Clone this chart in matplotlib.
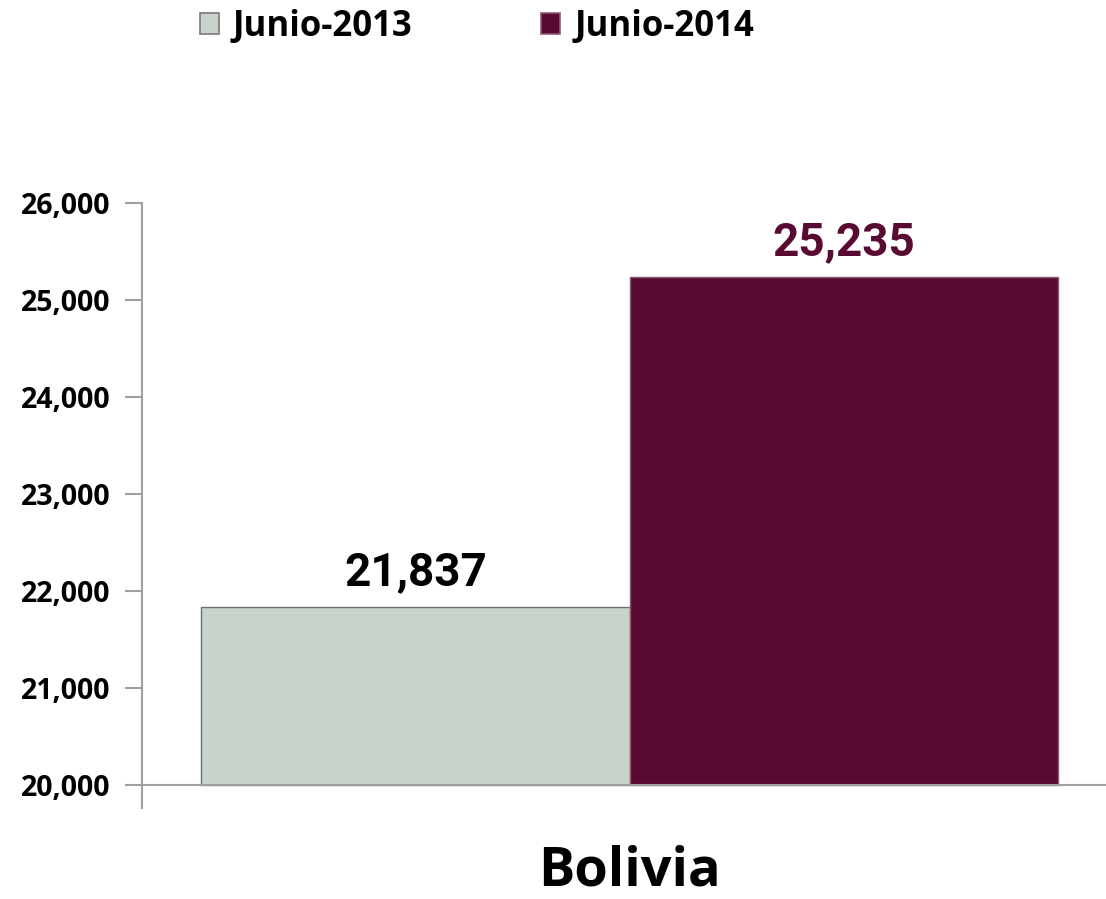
import matplotlib
matplotlib.use("Agg")
import matplotlib.pyplot as plt
from matplotlib.patches import Patch
from matplotlib.ticker import FuncFormatter

# Data
category = "Bolivia"
series_names = ["Junio-2013", "Junio-2014"]
values = [21837, 25235]
y_ticks = [20000, 21000, 22000, 23000, 24000, 25000, 26000]

bar_colors = ["#C9D3CB", "#590A33"]
edge_colors = ["#6E6E6E", "#8A5A75"]
label_colors = ["#000000", "#590A33"]

MAIN_FONT = ["Open Sans", "DejaVu Sans"]
VALUE_FONT = ["Roboto", "DejaVu Sans"]

W, H = 1106, 899
fig = plt.figure(figsize=(W / 100, H / 100), dpi=100)
fig.patch.set_facecolor("white")

# axes frame in pixel terms: left spine at x=142, top at y=203, bottom of spine at y=808
left_px, right_px, top_px, bottom_px = 142, 1106, 203, 808
ax = fig.add_axes([left_px / W, 1 - bottom_px / H,
                   (right_px - left_px) / W, (bottom_px - top_px) / H])

y0 = 20000
px_per_unit = (785 - 203) / 6000.0
ymin = y0 - (808 - 785) / px_per_unit
ax.set_ylim(ymin, 26000)

bar_w = 1.0
positions = [-0.5, 0.5]
xmin = -1 - (201 - 142) / 428.0
xmax = 1 + (1106 - 1058) / 428.0
ax.set_xlim(xmin, xmax)

for pos, v, fc, ec, lc in zip(positions, values, bar_colors, edge_colors, label_colors):
    ax.bar(pos, v - y0, bottom=y0, width=bar_w, color=fc, edgecolor=ec,
           linewidth=1.0, zorder=2)
    ax.annotate(f"{v:,}", xy=(pos, v), xytext=(0, 22), textcoords="offset pixels",
                ha="center", va="baseline", fontsize=33, fontweight="bold",
                color=lc, family=VALUE_FONT)

# horizontal baseline at 20,000
ax.axhline(y0, color="#A0A0A0", linewidth=1.5, zorder=3)

for s in ["top", "right", "bottom"]:
    ax.spines[s].set_visible(False)
ax.spines["left"].set_color("#A0A0A0")
ax.spines["left"].set_linewidth(1.5)

ax.set_yticks(y_ticks)
ax.yaxis.set_major_formatter(FuncFormatter(lambda v, p: f"{int(v):,}"))
ax.tick_params(axis="y", length=12, width=1.5, color="#A0A0A0", pad=11,
               labelsize=20.5)
for t in ax.get_yticklabels():
    t.set_fontweight("bold")
    t.set_family(MAIN_FONT)
ax.set_xticks([])

fig.text((201 + 1058) / 2 / W, 1 - 886 / H, category, ha="center", va="baseline",
         fontsize=39, fontweight="bold", family=MAIN_FONT)

handles = [Patch(facecolor=bar_colors[0], edgecolor="#7A7A7A", linewidth=1.2),
           Patch(facecolor=bar_colors[1], edgecolor="#8A5A75", linewidth=1.2)]
fig.legend(handles, series_names, loc="upper left",
           bbox_to_anchor=(200 / W, 1 - 9 / H), ncol=2, frameon=False,
           borderpad=0, borderaxespad=0,
           handlelength=0.55, handleheight=0.55, handletextpad=0.4,
           columnspacing=3.7,
           prop={"family": MAIN_FONT, "weight": "bold", "size": 25})

fig.savefig("out.png", dpi=100, facecolor="white")
